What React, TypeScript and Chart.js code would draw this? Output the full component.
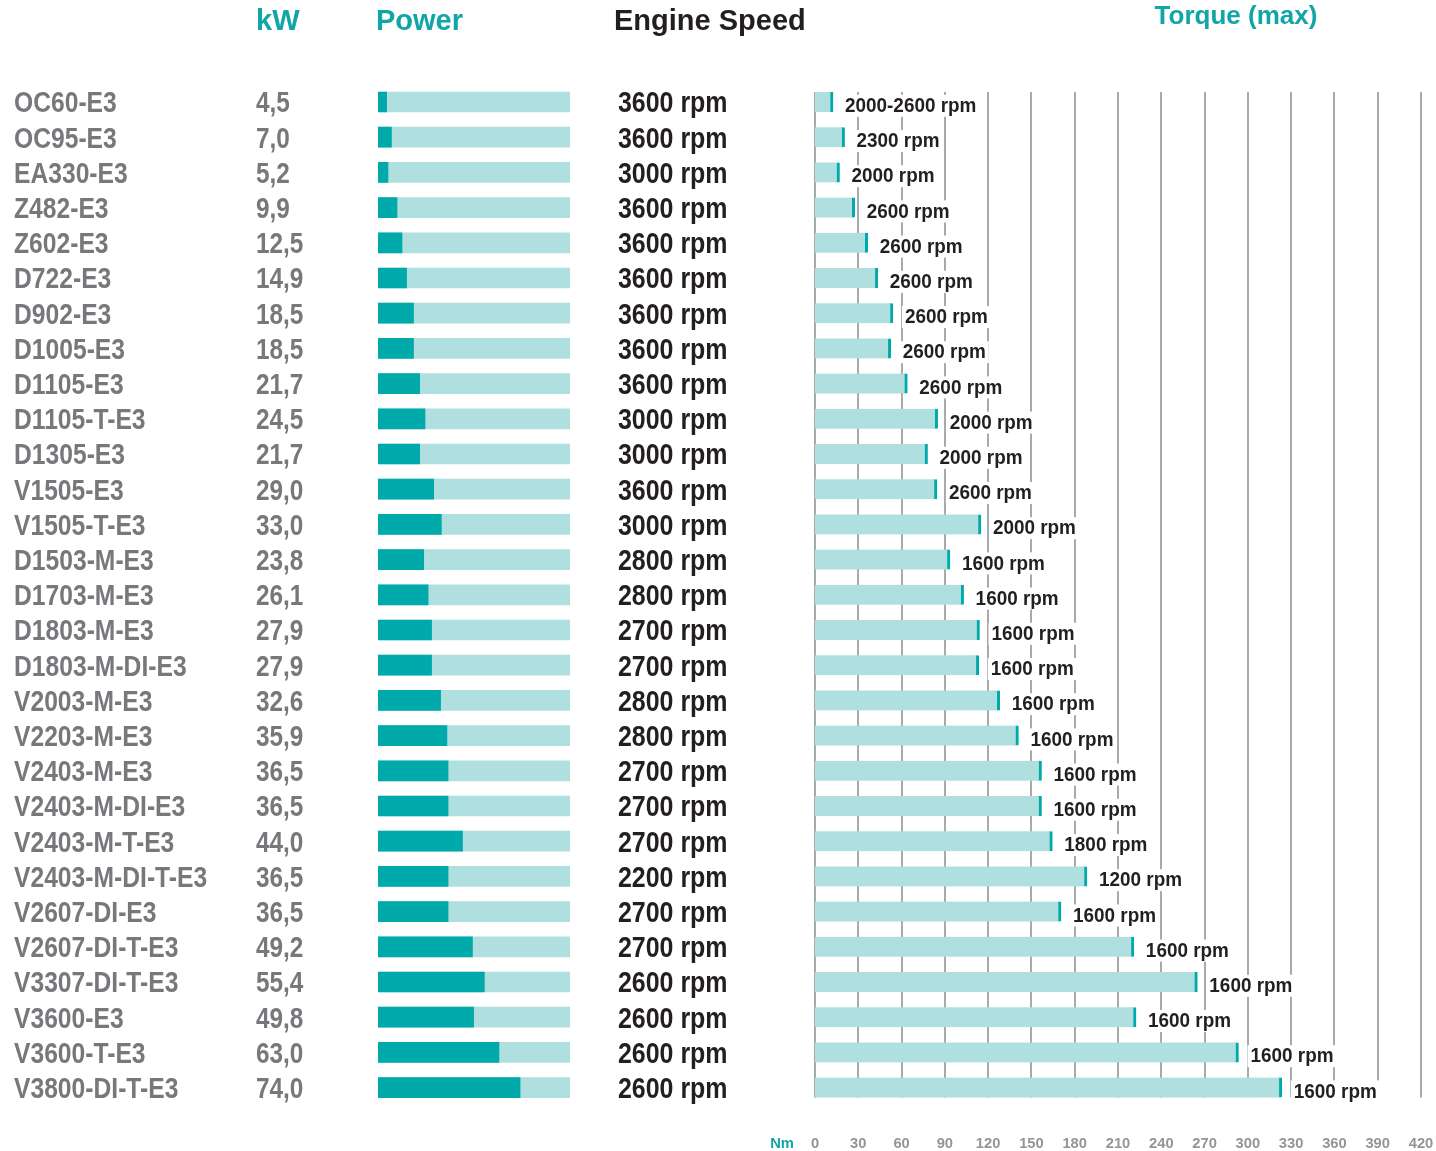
import React, { useEffect, useRef } from "react";
import { Chart, registerables } from "chart.js";

Chart.register(...registerables);

// ---------- data ----------
const engines = [
  "OC60-E3", "OC95-E3", "EA330-E3", "Z482-E3", "Z602-E3", "D722-E3", "D902-E3",
  "D1005-E3", "D1105-E3", "D1105-T-E3", "D1305-E3", "V1505-E3", "V1505-T-E3",
  "D1503-M-E3", "D1703-M-E3", "D1803-M-E3", "D1803-M-DI-E3", "V2003-M-E3",
  "V2203-M-E3", "V2403-M-E3", "V2403-M-DI-E3", "V2403-M-T-E3", "V2403-M-DI-T-E3",
  "V2607-DI-E3", "V2607-DI-T-E3", "V3307-DI-T-E3", "V3600-E3", "V3600-T-E3",
  "V3800-DI-T-E3",
];

const powerKw = [
  4.5, 7.0, 5.2, 9.9, 12.5, 14.9, 18.5, 18.5, 21.7, 24.5, 21.7, 29.0, 33.0,
  23.8, 26.1, 27.9, 27.9, 32.6, 35.9, 36.5, 36.5, 44.0, 36.5, 36.5, 49.2, 55.4,
  49.8, 63.0, 74.0,
];

const engineSpeedRpm = [
  3600, 3600, 3000, 3600, 3600, 3600, 3600, 3600, 3600, 3000, 3000, 3600, 3000,
  2800, 2800, 2700, 2700, 2800, 2800, 2700, 2700, 2700, 2200, 2700, 2700, 2600,
  2600, 2600, 2600,
];

const torqueNm = [
  12.5, 20.5, 17, 27.5, 36.5, 43.5, 54, 52.5, 64, 85, 78, 84.5, 115,
  93.5, 103, 114, 113.5, 128, 141, 157, 157, 164.5, 188.5, 170.5, 221, 265,
  222.5, 293.5, 323.5,
];

const torqueRpm = [
  "2000-2600 rpm", "2300 rpm", "2000 rpm", "2600 rpm", "2600 rpm", "2600 rpm",
  "2600 rpm", "2600 rpm", "2600 rpm", "2000 rpm", "2000 rpm", "2600 rpm",
  "2000 rpm", "1600 rpm", "1600 rpm", "1600 rpm", "1600 rpm", "1600 rpm",
  "1600 rpm", "1600 rpm", "1600 rpm", "1800 rpm", "1200 rpm", "1600 rpm",
  "1600 rpm", "1600 rpm", "1600 rpm", "1600 rpm", "1600 rpm",
];

const torqueTicks = [0, 30, 60, 90, 120, 150, 180, 210, 240, 270, 300, 330, 360, 390, 420];
const POWER_MAX = 100;
const TORQUE_MAX = 420;

// ---------- styles ----------
const DARK = "#00a9aa";
const LIGHT = "#b0dfe0";
const TEAL_TEXT = "#10a5a6";
const GRAY_TEXT = "#77787b";
const BLACK_TEXT = "#231f20";
const GRID = "#a7a9ac";
const SANS = "'Liberation Sans', Arial, sans-serif";

const ROW_TOP = 84.4;
const ROW_BOTTOM = 1105.2;
const H = 1151;
const LEFT_W = 810;
const RIGHT_X = 740;
const RIGHT_W = 1436 - RIGHT_X;

const fmtKw = (v: number) => v.toFixed(1).replace(".", ",");

// draw horizontally condensed text (alphabetic baseline)
function narrowText(
  ctx: CanvasRenderingContext2D,
  text: string,
  x: number,
  baseline: number,
  size: number,
  sx: number,
  color: string,
  align: "left" | "center" = "left",
  bg?: string
) {
  ctx.save();
  ctx.font = `bold ${size}px ${SANS}`;
  ctx.textBaseline = "alphabetic";
  const w = ctx.measureText(text).width * sx;
  const x0 = align === "center" ? x - w / 2 : x;
  if (bg) {
    ctx.fillStyle = bg;
    ctx.fillRect(x0 - 3, baseline - size * 0.82, w + 6, size * 1.05);
  }
  ctx.translate(x0, baseline);
  ctx.scale(sx, 1);
  ctx.textAlign = "left";
  ctx.fillStyle = color;
  ctx.fillText(text, 0, 0);
  ctx.restore();
}

export default function App() {
  const leftRef = useRef<HTMLCanvasElement>(null);
  const rightRef = useRef<HTMLCanvasElement>(null);

  useEffect(() => {
    const leftText = {
      id: "leftText",
      afterDraw(chart: any) {
        const ctx = chart.ctx;
        const y = chart.scales.y;
        engines.forEach((name, i) => {
          const py = y.getPixelForValue(i);
          const base = py + 10.4;
          narrowText(ctx, name, 14, base, 29, 0.85, GRAY_TEXT);
          narrowText(ctx, fmtKw(powerKw[i]), 256, base, 29, 0.84, GRAY_TEXT);
          narrowText(ctx, `${engineSpeedRpm[i]} rpm`, 618, base, 29, 0.86, BLACK_TEXT);
        });
        // headers
        ctx.save();
        ctx.font = `bold 29px ${SANS}`;
        ctx.textBaseline = "alphabetic";
        ctx.textAlign = "left";
        ctx.fillStyle = TEAL_TEXT;
        ctx.fillText("kW", 256, 30);
        ctx.fillText("Power", 376, 30);
        ctx.fillStyle = BLACK_TEXT;
        ctx.fillText("Engine Speed", 614, 30);
        ctx.restore();
      },
    };

    const left = new Chart(leftRef.current!, {
      type: "bar",
      data: {
        labels: engines,
        datasets: [
          {
            data: powerKw,
            backgroundColor: DARK,
            barThickness: 20,
            grouped: false,
            order: 0,
          },
          {
            data: powerKw.map(() => POWER_MAX),
            backgroundColor: LIGHT,
            barThickness: 20,
            grouped: false,
            order: 1,
          },
        ],
      },
      options: {
        indexAxis: "y",
        responsive: false,
        animation: false,
        layout: {
          padding: { left: 378, right: LEFT_W - 570, top: ROW_TOP, bottom: H - ROW_BOTTOM },
        },
        plugins: { legend: { display: false }, tooltip: { enabled: false } },
        scales: {
          x: { type: "linear", min: 0, max: POWER_MAX, display: false },
          y: { type: "category", display: false, offset: true },
        },
      },
      plugins: [leftText],
    } as any);

    const rightPlugin = {
      id: "torqueDecor",
      beforeDatasetsDraw(chart: any) {
        const ctx = chart.ctx;
        const x = chart.scales.x;
        const y = chart.scales.y;
        const top = y.getPixelForValue(0) - 10;
        const bottom = y.getPixelForValue(engines.length - 1) + 10;
        ctx.save();
        ctx.strokeStyle = GRID;
        ctx.lineWidth = 2;
        torqueTicks.forEach((t) => {
          const px = Math.round(x.getPixelForValue(t));
          ctx.beginPath();
          ctx.moveTo(px, top);
          ctx.lineTo(px, bottom);
          ctx.stroke();
        });
        ctx.restore();
      },
      afterDatasetsDraw(chart: any) {
        const ctx = chart.ctx;
        const x = chart.scales.x;
        const y = chart.scales.y;
        torqueRpm.forEach((lab, i) => {
          const px = x.getPixelForValue(torqueNm[i]) + 12;
          const py = y.getPixelForValue(i);
          narrowText(ctx, lab, px, py + 10, 21, 0.9, BLACK_TEXT, "left", "#ffffff");
        });
        // axis tick labels
        torqueTicks.forEach((t) => {
          narrowText(ctx, String(t), x.getPixelForValue(t), 1147.5, 15.5, 0.95, "#939598", "center");
        });
        narrowText(ctx, "Nm", 782 - RIGHT_X, 1147.5, 15.5, 0.95, TEAL_TEXT, "center");
        // header
        ctx.save();
        ctx.font = `bold 26px ${SANS}`;
        ctx.textBaseline = "alphabetic";
        ctx.textAlign = "center";
        ctx.fillStyle = TEAL_TEXT;
        ctx.fillText("Torque (max)", 1236 - RIGHT_X, 24);
        ctx.restore();
      },
    };

    const right = new Chart(rightRef.current!, {
      type: "bar",
      data: {
        labels: engines,
        datasets: [
          {
            data: torqueNm,
            backgroundColor: LIGHT,
            borderColor: DARK,
            borderWidth: { left: 0, top: 0, bottom: 0, right: 3 },
            borderSkipped: false,
            barThickness: 20,
          },
        ],
      },
      options: {
        indexAxis: "y",
        responsive: false,
        animation: false,
        layout: {
          padding: { left: 815 - RIGHT_X, right: 1436 - 1421, top: ROW_TOP, bottom: H - ROW_BOTTOM },
        },
        plugins: { legend: { display: false }, tooltip: { enabled: false } },
        scales: {
          x: { type: "linear", min: 0, max: TORQUE_MAX, display: false },
          y: { type: "category", display: false, offset: true },
        },
      },
      plugins: [rightPlugin],
    } as any);

    return () => {
      left.destroy();
      right.destroy();
    };
  }, []);

  return (
    <div style={{ position: "absolute", left: 0, top: 0, width: 1436, height: H, background: "#fff" }}>
      <canvas
        ref={rightRef}
        width={RIGHT_W}
        height={H}
        style={{ position: "absolute", left: RIGHT_X, top: 0, width: RIGHT_W, height: H }}
      />
      <canvas
        ref={leftRef}
        width={LEFT_W}
        height={H}
        style={{ position: "absolute", left: 0, top: 0, width: LEFT_W, height: H }}
      />
    </div>
  );
}
